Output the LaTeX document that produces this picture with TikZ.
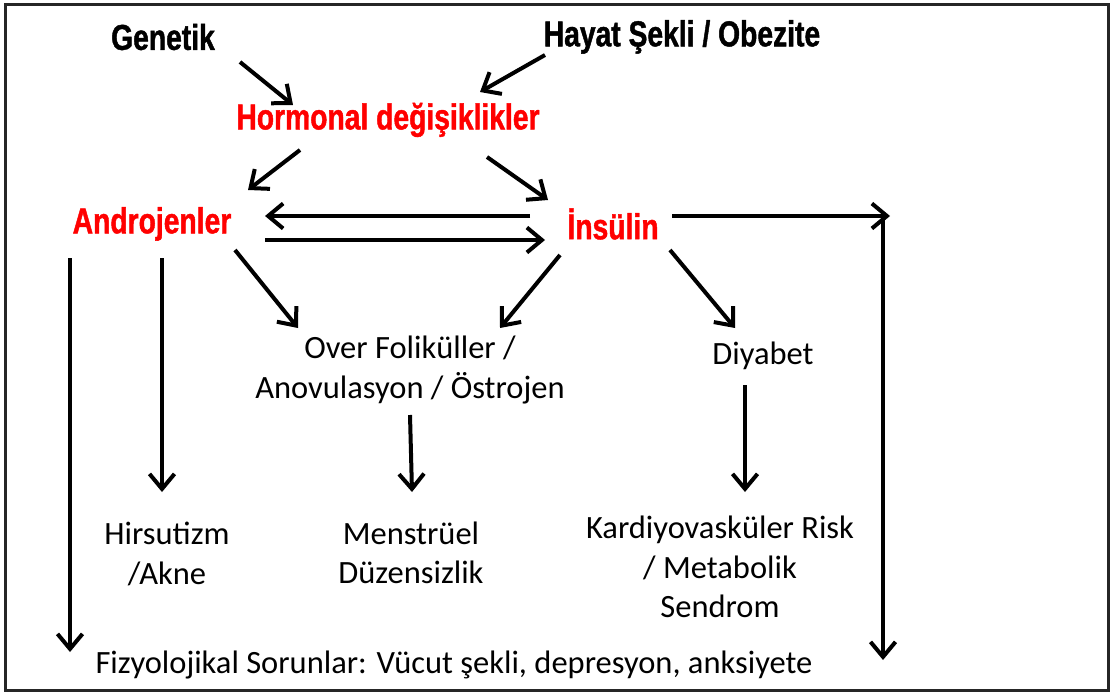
\documentclass[tikz,border=0pt]{standalone}
\usepackage{fontspec}
\setmainfont{Carlito}
\newfontfamily\condbold[FakeStretch=0.785,FakeBold=1.2,UprightFont={* Bold}]{Liberation Sans}
\usetikzlibrary{arrows.meta}
\tikzset{
  head/.style={font=\condbold\fontsize{36}{40}\selectfont, inner sep=0pt},
  redhead/.style={head, text=red},
  body/.style={font=\fontsize{32.5}{39.5}\selectfont, align=center, inner sep=0pt},
  arr/.style={line width=4pt, -{Straight Barb[length=15pt,width=25pt]}},
  frame/.style={line width=3pt, draw=black!85}
}
\begin{document}
\begin{tikzpicture}[x=1pt,y=-1pt]
\useasboundingbox (0,0) rectangle (1113,695);
\draw[frame] (5,5) rectangle (1108,690);
% nodes
\node[head] (gen) at (163,37) {Genetik};
\node[head] (hay) at (682,37) {Hayat Şekli / Obezite};
\node[redhead] (horm) at (388,120) {Hormonal değişiklikler};
\node[redhead] (andr) at (152,224) {Androjenler};
\node[redhead] (ins) at (613,224) {İnsülin};
\node[body] (over) at (410,370) {Over Foliküller /\\Anovulasyon / Östrojen};
\node[body] (diy) at (763,356) {Diyabet};
\node[body] (hir) at (167,554) {Hirsutizm\\/Akne};
\node[body] (men) at (411,553) {Menstrüel\\Düzensizlik};
\node[body] (kar) at (720,567) {Kardiyovasküler Risk\\/ Metabolik\\Sendrom};
\node[body] (fiz) at (454,665) {Fizyolojikal Sorunlar: Vücut şekli, depresyon, anksiyete};
\coordinate (rc) at (890,216);
\coordinate (rt) at (883,214);
\coordinate (rb) at (883,660);
\coordinate (lb) at (70,652);
% connectors
\draw[arr] ([shift={(77,25)}]gen.center) -- ([shift={(-95,-15)}]horm.center);
\draw[arr] ([shift={(-137,18)}]hay.center) -- ([shift={(92,-28)}]horm.center);
\draw[arr] ([shift={(-88,30)}]horm.center) -- ([shift={(96,-34)}]andr.center);
\draw[arr] ([shift={(99,37)}]horm.center) -- ([shift={(-65,-24)}]ins.center);
\draw[arr] ([shift={(-83,-8)}]ins.center) -- ([shift={(113,-8)}]andr.center);
\draw[arr] ([shift={(113,16)}]andr.center) -- ([shift={(-68,16)}]ins.center);
\draw[arr] ([shift={(59,-8)}]ins.center) -- (rc);
\draw[arr] (rt) -- (rb);
\draw[arr] ([shift={(-82,34)}]andr.center) -- (lb);
\draw[arr] ([shift={(10,34)}]andr.center) -- ([shift={(-5,-62)}]hir.center);
\draw[arr] ([shift={(83,26)}]andr.center) -- ([shift={(-112,-42)}]over.center);
\draw[arr] ([shift={(-53,31)}]ins.center) -- ([shift={(90,-42)}]over.center);
\draw[arr] ([shift={(57,26)}]ins.center) -- ([shift={(-28,-28)}]diy.center);
\draw[arr] ([shift={(0,45)}]over.center) -- ([shift={(1,-61)}]men.center);
\draw[arr] ([shift={(-18,29)}]diy.center) -- ([shift={(25,-75)}]kar.center);
\end{tikzpicture}
\end{document}
